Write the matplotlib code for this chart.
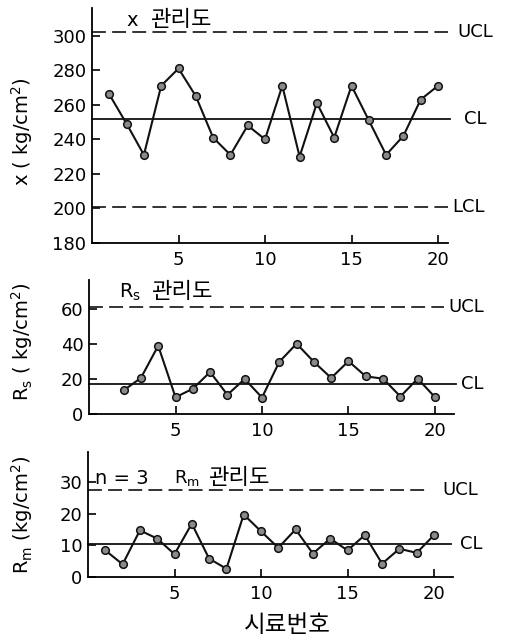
import matplotlib
matplotlib.use('Agg')
import matplotlib.pyplot as plt

plt.rcParams['font.family'] = ['DejaVu Sans', 'Noto Sans CJK KR']
plt.rcParams['mathtext.default'] = 'regular'
plt.rcParams['lines.scale_dashes'] = False

# ---------------- data ----------------
sample = list(range(1, 21))
x_vals = [266, 249, 231, 271, 281, 265, 241, 231, 248, 240,
          271, 230, 261, 241, 271, 251, 231, 242, 263, 271]
x_ucl, x_cl, x_lcl = 302, 252, 201

rs_sample = list(range(2, 21))
rs_vals = [13.5, 20.6, 39, 9.6, 14.4, 24, 11, 20, 9.4, 29.8,
           40.2, 29.8, 20.6, 30.2, 21.5, 20.2, 10, 20.2, 9.6]
rs_ucl, rs_cl = 61, 17

rm_vals = [8.4, 4.0, 14.7, 12.1, 7.2, 16.8, 5.8, 2.6, 19.7, 14.4,
           9.2, 15, 7.4, 12.1, 8.4, 13.2, 4.2, 8.9, 7.6, 13.2]
rm_ucl, rm_cl = 27.5, 10.3

x_ticks = [5, 10, 15, 20]
top_yticks = [180, 200, 220, 240, 260, 280, 300]
mid_yticks = [0, 20, 40, 60]
bot_yticks = [0, 10, 20, 30]

W, H = 509, 642
fig = plt.figure(figsize=(W / 100, H / 100), dpi=100)
fig.patch.set_facecolor('white')


def add_ax(left, right, top, bottom):
    return fig.add_axes([left / W, 1 - bottom / H, (right - left) / W, (bottom - top) / H])


def style(ax, xlim, ylim, yticks):
    ax.set_xlim(*xlim)
    ax.set_ylim(*ylim)
    ax.set_xticks(x_ticks)
    ax.set_yticks(yticks)
    for s in ['top', 'right']:
        ax.spines[s].set_visible(False)
    for s in ['left', 'bottom']:
        ax.spines[s].set_linewidth(1.3)
    ax.tick_params(direction='in', length=6, width=1.2, labelsize=13, pad=4)
    ax.tick_params(axis='x', pad=6)


lc = '#111111'
mk = dict(marker='o', markersize=5.5, markerfacecolor='#8a8a8a',
          markeredgecolor=lc, markeredgewidth=1.1, color=lc, linewidth=1.5)
dash = dict(color=lc, linewidth=1.2, linestyle=(0, (10, 4.5)))
solid = dict(color=lc, linewidth=1.3)

# ---------- top: x chart ----------
px = 17.3
ax1 = add_ax(92, 92 + 20.6 * px, 8, 243)
style(ax1, (0, 20.6), (180, 316), top_yticks)
ax1.plot([0, 20.6], [x_ucl, x_ucl], **dash, clip_on=False)
ax1.plot([0, 20.6], [x_lcl, x_lcl], **dash, clip_on=False)
ax1.plot([0, 20.7], [x_cl, x_cl], **solid, clip_on=False)
ax1.plot(sample, x_vals, **mk)
ax1.text(21.1, x_ucl, 'UCL', va='center', ha='left', fontsize=13, clip_on=False)
ax1.text(21.5, x_cl, 'CL', va='center', ha='left', fontsize=13, clip_on=False)
ax1.text(20.85, x_lcl, 'LCL', va='center', ha='left', fontsize=13, clip_on=False)

# ---------- middle: Rs chart ----------
ax2 = add_ax(89, 89 + 21.1 * px, 280, 414)
style(ax2, (0, 21.1), (0, 76.6), mid_yticks)
ax2.plot([0, 20.5], [rs_ucl, rs_ucl], **dash, clip_on=False)
ax2.plot([0, 21.2], [rs_cl, rs_cl], **solid, clip_on=False)
ax2.plot(rs_sample, rs_vals, **mk)
ax2.text(20.8, rs_ucl, 'UCL', va='center', ha='left', fontsize=13, clip_on=False)
ax2.text(21.5, rs_cl, 'CL', va='center', ha='left', fontsize=13, clip_on=False)

# ---------- bottom: Rm chart ----------
ax3 = add_ax(88, 88 + 21.1 * px, 452, 577)
style(ax3, (0, 21.1), (0, 39.4), bot_yticks)
ax3.plot([0, 19.7], [rm_ucl, rm_ucl], **dash, clip_on=False)
ax3.plot([0, 21.0], [rm_cl, rm_cl], **solid, clip_on=False)
ax3.plot(sample, rm_vals, **mk)
ax3.text(20.5, rm_ucl, 'UCL', va='center', ha='left', fontsize=13, clip_on=False)
ax3.text(21.5, rm_cl, 'CL', va='center', ha='left', fontsize=13, clip_on=False)


def ftext(x, y, s, **kw):
    fig.text(x / W, 1 - y / H, s, **kw)


# panel titles
ftext(126, 20, 'x', fontsize=14, va='center')
ftext(150, 20, '관리도', fontsize=16, va='center')
ftext(119, 292, '$R_s$', fontsize=14, va='center')
ftext(151, 292, '관리도', fontsize=16, va='center')
ftext(95, 478, 'n = 3', fontsize=14, va='center')
ftext(174, 478, '$R_m$', fontsize=13, va='center')
ftext(208, 478, '관리도', fontsize=16, va='center')

# y labels
ftext(22, 132, 'x ( kg/cm$^2$)', fontsize=14, rotation=90, ha='center', va='center')
ftext(22, 342, '$R_s$ ( kg/cm$^2$)', fontsize=14, rotation=90, ha='center', va='center')
ftext(22, 515, '$R_m$ (kg/cm$^2$)', fontsize=14, rotation=90, ha='center', va='center')

# x label
ftext(287, 625, '시료번호', fontsize=17, ha='center', va='center')

fig.savefig('out.png', dpi=100, facecolor='white')
